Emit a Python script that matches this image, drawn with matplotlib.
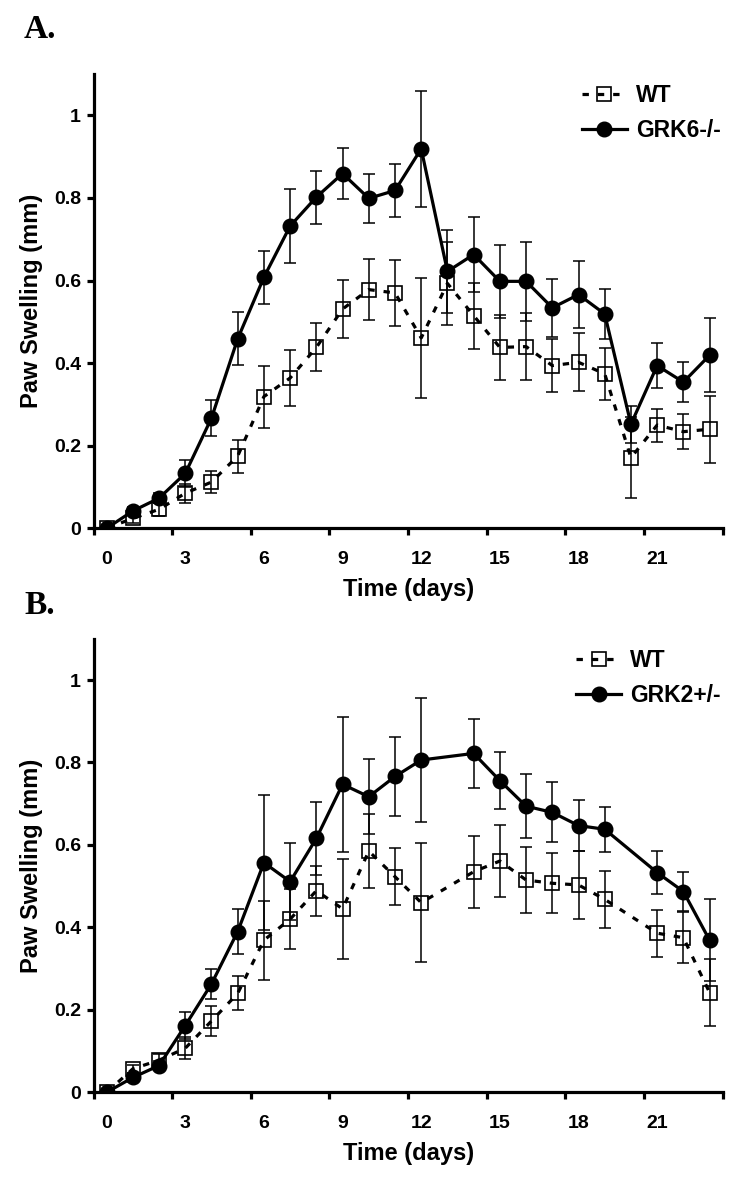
#paw swelling time course, WT vs GRK6-/- (A) and WT vs GRK2+/- (B)

import numpy as np
import matplotlib
matplotlib.use('Agg')
import matplotlib.pyplot as plt

plt.rcParams['font.family'] = ['Liberation Sans', 'DejaVu Sans']
plt.rcParams['font.weight'] = 'bold'

nan = np.nan

#day index, one category per day (excel style axis)
days = list(range(24))
day_labels = ['0', '3', '6', '9', '12', '15', '18', '21']
y_ticks = [0, 0.2, 0.4, 0.6, 0.8, 1.0]
y_tick_labels = ['0', '0.2', '0.4', '0.6', '0.8', '1']

#panel A
wt_a = [0, 0.024, 0.046, 0.085, 0.112, 0.175, 0.319, 0.364, 0.438, 0.531, 0.578, 0.570,
        0.461, 0.593, 0.515, 0.438, 0.440, 0.394, 0.402, 0.374, 0.171, 0.250, 0.234, 0.240]
wt_a_err = [0, 0.010, 0.015, 0.023, 0.026, 0.040, 0.075, 0.068, 0.058, 0.070, 0.074, 0.080,
            0.145, 0.100, 0.080, 0.078, 0.082, 0.065, 0.070, 0.063, 0.098, 0.040, 0.043, 0.081]
grk6 = [0, 0.042, 0.073, 0.133, 0.267, 0.459, 0.608, 0.732, 0.802, 0.859, 0.799, 0.818,
        0.919, 0.622, 0.663, 0.598, 0.598, 0.534, 0.566, 0.519, 0.252, 0.394, 0.354, 0.419]
grk6_err = [0, 0.010, 0.012, 0.033, 0.043, 0.064, 0.064, 0.090, 0.064, 0.062, 0.060, 0.064,
            0.140, 0.100, 0.090, 0.089, 0.096, 0.070, 0.082, 0.060, 0.045, 0.055, 0.048, 0.090]

#panel B (no measurement on days 13 and 20)
wt_b = [0, 0.057, 0.078, 0.107, 0.173, 0.240, 0.369, 0.420, 0.489, 0.445, 0.585, 0.523,
        0.460, nan, 0.535, 0.561, 0.515, 0.507, 0.503, 0.468, nan, 0.386, 0.375, 0.242]
wt_b_err = [0, 0.010, 0.015, 0.027, 0.036, 0.041, 0.096, 0.072, 0.061, 0.122, 0.090, 0.069,
            0.145, nan, 0.087, 0.087, 0.080, 0.073, 0.083, 0.070, nan, 0.057, 0.062, 0.081]
grk2 = [0, 0.036, 0.065, 0.162, 0.263, 0.390, 0.557, 0.511, 0.616, 0.747, 0.717, 0.766,
        0.806, nan, 0.822, 0.756, 0.694, 0.679, 0.647, 0.638, nan, 0.533, 0.487, 0.369]
grk2_err = [0, 0.010, 0.012, 0.032, 0.037, 0.054, 0.163, 0.094, 0.089, 0.164, 0.091, 0.095,
            0.150, nan, 0.084, 0.070, 0.077, 0.073, 0.062, 0.054, nan, 0.052, 0.048, 0.099]


def draw_series(ax, y, err, label, filled):
    x = np.array(days, dtype=float)
    y = np.array(y, dtype=float)
    err = np.array(err, dtype=float)
    ok = ~np.isnan(y)
    x, y, err = x[ok], y[ok], err[ok]

    ax.errorbar(x, y, yerr=err, fmt='none', ecolor='black', elinewidth=1.1,
                capsize=4, capthick=1.1, zorder=4 if filled else 3)
    if filled:
        ax.plot(x, y, color='black', lw=2.3, marker='o', markersize=10.5,
                markerfacecolor='black', markeredgecolor='black', label=label, zorder=5)
    else:
        ax.plot(x, y, color='black', lw=2.3, linestyle=(0, (2.0, 2.8)), marker='s',
                markersize=10, markerfacecolor='none', markeredgecolor='black',
                markeredgewidth=1.2, label=label, zorder=3)


def style_axes(ax):
    ax.set_xlim(-0.5, 23.5)
    ax.set_ylim(0, 1.1)
    for side in ['top', 'right']:
        ax.spines[side].set_visible(False)
    for side in ['left', 'bottom']:
        ax.spines[side].set_linewidth(2.3)

    #tick marks sit between categories, labels on the categories
    ax.set_xticks([-0.5 + 3 * k for k in range(9)])
    ax.set_xticklabels([])
    ax.tick_params(axis='x', which='major', direction='out', length=5, width=2.3)
    ax.set_xticks([days[3 * k] for k in range(len(day_labels))], minor=True)
    ax.set_xticklabels(day_labels, minor=True, fontsize=14, fontweight='bold')
    ax.tick_params(axis='x', which='minor', length=0, pad=16)

    ax.set_yticks(y_ticks)
    ax.set_yticklabels(y_tick_labels, fontsize=14, fontweight='bold')
    ax.tick_params(axis='y', direction='out', length=5, width=2.3, pad=4)

    ax.set_xlabel('Time (days)', fontsize=17, fontweight='bold', va='center')
    ax.xaxis.set_label_coords(0.5, -0.134)
    ax.set_ylabel('Paw Swelling (mm)', fontsize=17, fontweight='bold', va='center')
    ax.yaxis.set_label_coords(-0.098, 0.5)

    ax.legend(loc='upper right', bbox_to_anchor=(1.013, 1.0), frameon=False,
              prop={'family': 'Liberation Sans', 'weight': 'bold', 'size': 16.5},
              handlelength=1.95, handletextpad=0.4, borderaxespad=0, borderpad=0.45,
              labelspacing=0.5)


def main():
    fig = plt.figure(figsize=(7.5, 11.79), dpi=100)
    ax_a = fig.add_axes([0.1247, 0.5519, 0.8389, 0.3853])
    ax_b = fig.add_axes([0.1247, 0.0735, 0.8389, 0.3847])

    draw_series(ax_a, wt_a, wt_a_err, 'WT', False)
    draw_series(ax_a, grk6, grk6_err, 'GRK6-/-', True)
    style_axes(ax_a)

    draw_series(ax_b, wt_b, wt_b_err, 'WT', False)
    draw_series(ax_b, grk2, grk2_err, 'GRK2+/-', True)
    style_axes(ax_b)

    fig.text(0.032, 0.9678, 'A.', fontsize=24, fontweight='bold', family='Liberation Serif',
             ha='left', va='baseline')
    fig.text(0.032, 0.4795, 'B.', fontsize=24, fontweight='bold', family='Liberation Serif',
             ha='left', va='baseline')

    fig.savefig('out.png', dpi=100)


if __name__ == '__main__':
    main()
